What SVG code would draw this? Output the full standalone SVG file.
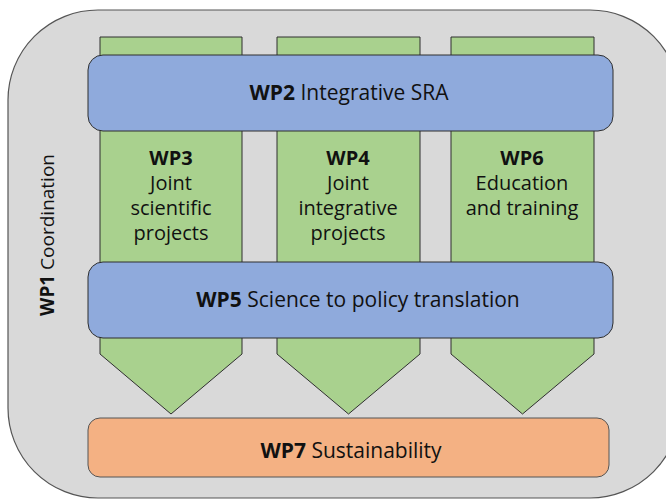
<svg xmlns="http://www.w3.org/2000/svg" width="666" height="501" viewBox="0 0 666 501">
<style>
text{font-family:"Open Sans","Liberation Sans",sans-serif;font-size:21px;fill:#111;text-anchor:middle}
.c{font-size:20px}
.b{font-weight:bold}
.col{fill:#a9d18e;stroke:#2f2f2f;stroke-width:1}
.blue{fill:#8faadc;stroke:#2f2f2f;stroke-width:1}
</style>
<g id="wp1">
<rect x="8" y="10" width="672" height="488" rx="90" ry="90" fill="#d9d9d9" stroke="#555" stroke-width="1.2"/>
<text transform="translate(54,235) rotate(-90)" style="font-size:19px"><tspan class="b">WP1</tspan>  Coordination</text>
</g>
<g id="wp3">
<polygon class="col" points="100,37 242,37 242,354 171,414 100,354"/>
<text x="171" y="165" class="b c">WP3</text>
<text x="171" y="190" class="c">Joint</text>
<text x="171" y="215" class="c">scientific</text>
<text x="171" y="240" class="c">projects</text>
</g>
<g id="wp4">
<polygon class="col" points="277,37 420,37 420,354 348.5,414 277,354"/>
<text x="348" y="165" class="b c">WP4</text>
<text x="348" y="190" class="c">Joint</text>
<text x="348" y="215" class="c">integrative</text>
<text x="348" y="240" class="c">projects</text>
</g>
<g id="wp6">
<polygon class="col" points="451,37 594,37 594,354 522.5,414 451,354"/>
<text x="522" y="165" class="b c">WP6</text>
<text x="522" y="190" class="c">Education</text>
<text x="522" y="215" class="c">and training</text>
</g>
<g id="wp2">
<rect class="blue" x="88" y="55" width="525" height="76" rx="15"/>
<text x="349" y="100"><tspan class="b">WP2</tspan> Integrative SRA</text>
</g>
<g id="wp5">
<rect class="blue" x="88" y="262" width="525" height="76" rx="15"/>
<text x="358" y="307"><tspan class="b">WP5</tspan> Science to policy translation</text>
</g>
<g id="wp7">
<rect x="88" y="418" width="521" height="59" rx="12" fill="#f4b183" stroke="#555" stroke-width="1"/>
<text x="351" y="458"><tspan class="b">WP7</tspan> Sustainability</text>
</g>
<g id="connectors"/>
</svg>
